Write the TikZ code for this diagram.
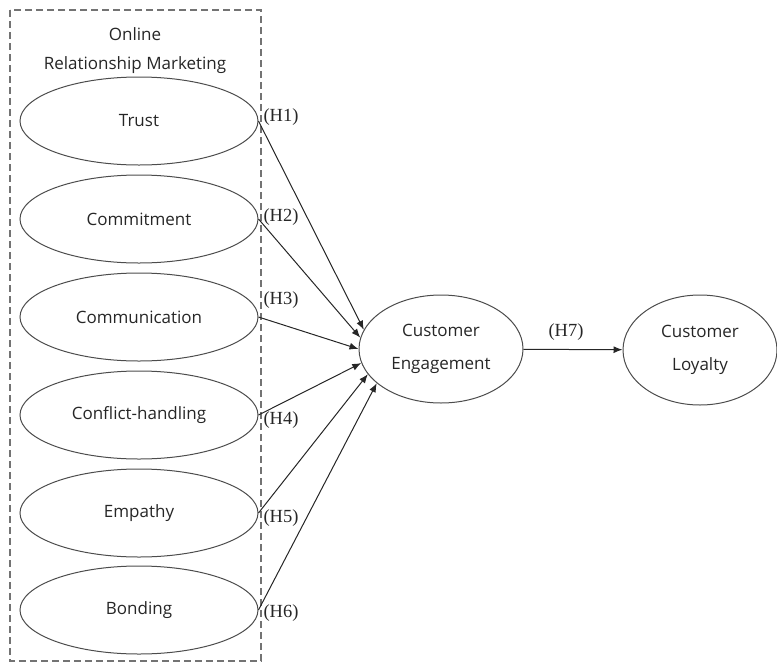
\documentclass[tikz,border=0pt]{standalone}
\usepackage{fontspec}
\setmainfont{Open Sans}
\newfontfamily\hypfont{Liberation Serif}
\usetikzlibrary{shapes.geometric,arrows.meta}

\begin{document}
\begin{tikzpicture}[x=1pt,y=-1pt]
\tikzstyle{construct}=[draw=black!70,line width=1pt,ellipse,inner sep=0pt,minimum width=238pt,minimum height=88pt,text=black!85,font=\fontsize{17}{19}\selectfont]
\tikzstyle{outcome}=[construct,align=center,font=\fontsize{17}{33}\selectfont]
\tikzstyle{hyp}=[inner sep=0pt,text=black!85,font=\hypfont\fontsize{18.5}{20}\selectfont]
\tikzstyle{link}=[black!85,line width=1pt,-{Latex[length=9pt,width=7pt]}]
\useasboundingbox (0,0) rectangle (777,662);
\draw [black!55,line width=1.5pt,dash pattern=on 7pt off 4pt] (10,10) rectangle (261,661);
\node [text=black!85,align=center,font=\fontsize{17}{29}\selectfont] (orm) at (135,51) {Online\\Relationship Marketing};
\node [construct] (trust) at (139,121) {Trust};
\node [construct] (commit) at (139,219) {Commitment};
\node [construct] (comm) at (139,317) {Communication};
\node [construct] (conflict) at (139,415) {Conflict-handling};
\node [construct] (empathy) at (139,513) {Empathy};
\node [construct] (bonding) at (139,610) {Bonding};
\node [outcome,minimum width=164pt,minimum height=108pt] (engage) at (441,349) {Customer\\Engagement};
\node [outcome,minimum width=154pt,minimum height=110pt] (loyal) at (700,350) {Customer\\Loyalty};
\node [hyp] (h1) at (281,117) {(H1)};
\node [hyp] (h2) at (281,217) {(H2)};
\node [hyp] (h3) at (281,300) {(H3)};
\node [hyp] (h4) at (281,420) {(H4)};
\node [hyp] (h5) at (281,518) {(H5)};
\node [hyp] (h6) at (281,613) {(H6)};
\node [hyp] (h7) at (566,332) {(H7)};
\draw [link] (trust.east) -- (engage.166);
\draw [link] (commit.east) -- (engage.172);
\draw [link] (comm.east) -- (engage.180);
\draw [link] (conflict.east) -- (engage.190);
\draw [link] (empathy.east) -- (engage.199);
\draw [link] (bonding.east) -- (engage.208);
\draw [link] (engage) -- (loyal);
\end{tikzpicture}
\end{document}
